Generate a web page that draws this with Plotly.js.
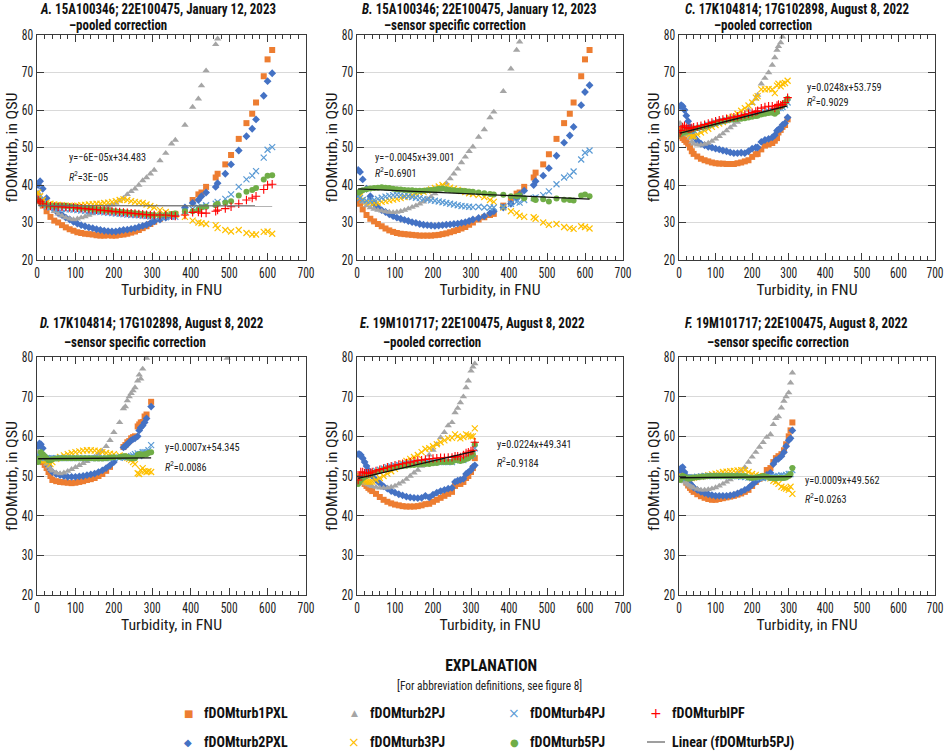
<!DOCTYPE html>
<html><head><meta charset="utf-8">
<script src="https://cdn.plot.ly/plotly-3.0.1.min.js"></script>
<style>html,body{margin:0;padding:0;background:#fff}#chart{width:944px;height:751px}</style>
</head><body><div id="chart"></div>
<script>
// ---------- DATA ----------
const seriesNames = ['fDOMturb1PXL','fDOMturb2PXL','fDOMturb2PJ','fDOMturb3PJ','fDOMturb4PJ','fDOMturb5PJ','fDOMturbIPF'];
const trendName = 'Linear (fDOMturb5PJ)';
const panelLetters = ['A.','B.','C.','D.','E.','F.'];
const panelIds = ['15A100346; 22E100475, January 12, 2023','15A100346; 22E100475, January 12, 2023','17K104814; 17G102898, August 8, 2022','17K104814; 17G102898, August 8, 2022','19M101717; 22E100475, August 8, 2022','19M101717; 22E100475, August 8, 2022'];
const panelCorr = ['\u2013pooled correction','\u2013sensor specific correction','\u2013pooled correction','\u2013sensor specific correction','\u2013pooled correction','\u2013sensor specific correction'];
const fitSlopes = [-0.00006, -0.0045, 0.0248, 0.0007, 0.0224, 0.0009];
const fitIntercepts = [34.483, 39.001, 53.759, 54.345, 49.341, 49.562];
const fitEqText = ['y=\u22126E\u221205x+34.483','y=\u22120.0045x+39.001','y=0.0248x+53.759','y=0.0007x+54.345','y=0.0224x+49.341','y=0.0009x+49.562'];
const fitR2Text = ['3E\u221205','0.6901','0.9029','0.0086','0.9184','0.0263'];
const xTickVals = [0,100,200,300,400,500,600,700];
const yTickVals = [20,30,40,50,60,70,80];

// Turbidity (FNU), January 12, 2023 (panels A, B)
const xAB = [3,8,15,25,35,45,55,65,75,85,95,105,115,125,135,145,155,165,175,185,195,205,215,225,235,245,255,265,275,285,295,305,320,335,350,360,385,405,420,428,440,465,470,490,505,525,545,560,570,590,600,612];
// Panel A
const a1PXL = [37,36,34.5,33,31.5,30.5,30,29.3,28.7,28.2,27.8,27.4,27.2,27,26.9,26.8,26.6,26.5,26.5,26.6,26.5,26.5,26.7,26.8,27,27.3,27.6,28,28.5,29,29.6,30.2,31,31.5,32,32.3,33.5,36,37.5,38,39.5,42,43,45.5,48,52.3,56.5,59,62,69,73.5,76];
const a2PXL = [40,41,39,36.5,34.5,33.5,32.5,32,31.3,30.8,30.2,29.7,29.3,29,28.7,28.5,28.2,28,27.8,27.7,27.6,27.6,27.8,28,28.1,28.3,28.5,28.8,29.1,29.4,29.8,30.3,30.8,31.3,31.8,32,34,35.2,36,37,38,39.5,40.5,43,45.5,49.2,53,55,57.5,63.8,67.7,69.8];
const a2PJ = [38,37,36,34.5,33.8,33,32.3,31.8,31.3,31,30.8,31,31.3,31.6,32,32.4,32.8,33.3,33.8,34.2,34.7,35.2,35.8,36.5,37.5,38.3,39,40,41.2,42,43,44,46.5,48.5,51,52,56,60.8,63,66.5,70.5,77.5,79,null,null,null,null,null,null,null,null,null];
const a3PJ = [38,37,36,35.3,35,34.8,34.7,34.6,34.5,34.5,34.4,34.5,34.6,34.7,34.8,34.9,35,35,35.2,35.3,35.5,35.7,36,36.2,36,35.7,35.5,35.3,35.2,34.8,34.4,34,33.3,32.8,32.3,32,31.5,30.5,30,29.8,29.6,29.3,28.5,28,27.6,28,27.2,26.8,26.8,27.5,27.6,27];
const a4PJ = [36.5,36,35,34.3,34,33.8,33.7,33.6,33.5,33.5,33.4,33.3,33.2,33.1,33,33,32.9,32.8,32.7,32.6,32.5,32.4,32.3,32.2,32.1,32,32,31.9,31.8,31.7,31.6,31.5,31.5,31.4,31.5,31.5,33,33.6,34,34.3,34.6,35,35.5,36.3,37.5,39.5,41.5,42.5,43.7,47.3,49.4,50.1];
const a5PJ = [36,35.5,35,34.7,34.5,34.5,34.5,34.5,34.5,34.3,34.2,34,33.9,33.8,33.7,33.6,33.5,33.4,33.3,33.2,33.1,33,32.9,32.8,32.7,32.6,32.5,32.4,32.3,32.2,32.1,32,32,32.1,32.3,32.4,33,33,33.5,34,34.2,34.6,35,35.3,35.7,37.2,38.2,38.7,39.2,41.5,42.5,42.6];
const aIPF = [36,35.5,35,34.6,34.4,34.3,34.2,34.2,34.1,34,34,33.9,33.8,33.7,33.6,33.5,33.4,33.3,33.2,33.1,33,32.9,32.8,32.7,32.6,32.5,32.4,32.3,32.2,32.1,32,32,32,32,31.8,31.7,32,32.7,32.8,32.5,32.5,33,33.3,33.7,34.2,35,36,36.5,37,38.8,40,40.2];
// Panel B
const b1PXL = [36,35,33.5,32,31,30.3,29.6,29,28.4,27.9,27.5,27.2,27,26.9,26.8,26.7,26.6,26.5,26.5,26.5,26.5,26.6,26.7,26.9,27.1,27.4,27.7,28,28.4,28.8,29.4,30,30.8,31.4,32,32.3,34.5,36,37.7,38,39.5,42,43.3,45.5,48.2,52.3,56.5,59,62,69,73.5,76];
const b2PXL = [44,43.5,41.5,39,37,35,34,33.3,32.8,32.2,31.7,31.3,31,30.7,30.4,30.1,29.9,29.6,29.4,29.3,29.2,29.1,29.2,29.3,29.4,29.5,29.6,29.7,29.9,30.1,30.4,30.8,31.2,31.7,32.5,33,34,35,36.5,37.5,38.5,40,41,42.5,44.5,47.8,51.3,53.2,55.5,61.3,64.8,66.6];
const b2PJ = [37,36.5,35.5,34.5,34,33.6,33.3,33.1,32.9,32.8,32.7,32.8,33,33.3,33.7,34.1,34.5,35,35.5,36.2,36.9,37.7,38.5,39.5,40.5,41.7,43,44.3,46,47.5,49,50.2,52.8,54.8,58,59.5,65,71,76,78.2,null,null,null,null,null,null,null,null,null,null,null,null];
const b3PJ = [38,37,36,35.5,35.3,35.2,35.3,35.5,35.7,35.9,36.1,36.3,36.5,36.8,37,37.3,37.6,37.9,38.2,38.5,38.8,39.2,39.6,40,39.7,39.3,39,38.7,38.4,38.1,37.8,37.6,37.3,36.8,36,35.5,34,33,32.5,31.8,31.5,31.4,31,30,29.4,29.6,28.8,28.5,28.3,29,28.8,28.4];
const b4PJ = [37,36.5,36,35.8,35.8,36,36.3,36.6,36.9,37.1,37.3,37.4,37.3,37.1,37,36.8,36.6,36.5,36.3,36.1,35.9,35.8,35.6,35.4,35.2,35,34.8,34.6,34.4,34.3,34.2,34.1,34.2,34,34,34,34.2,35,35.5,35.3,36,36.5,36.7,37.3,38.3,40.2,42,42.5,43.6,46.8,48.6,49.2];
const b5PJ = [38,38.3,38.6,38.9,39.1,39.2,39.3,39.4,39.3,39.2,39,38.9,38.8,38.7,38.6,38.6,38.5,38.5,38.5,38.6,38.7,38.8,39,39.1,38.9,38.7,38.6,38.5,38.5,38.4,38.3,38.2,38,37.8,37.6,37.5,37.4,37,37,37.2,36.5,36.3,36,36.2,35.6,36.4,36.1,36,35.9,37.2,37.5,37];

// Turbidity (FNU), August 8, 2022, 17K104814 (panels C, D)
const xC = [3,6,10,15,20,25,30,35,40,50,60,70,80,90,100,110,120,130,140,150,160,170,180,190,200,210,215,225,235,245,255,262,268,272,278,283,290,297];
const c1PXL = [53.5,53,52.5,52,51.5,51,50,49,48.3,47.6,47,46.6,46.3,46,45.8,45.7,45.7,45.6,45.6,45.6,45.8,46,46.3,46.6,47.5,48.2,48.3,49.5,50.5,50.8,51.2,51.8,52.5,54,54.7,55.5,56,57.5];
const c2PXL = [61,61.3,61,60,58.5,57,55.5,54,53,51.8,51,50.6,50.2,50,49.7,49.5,49.2,49,48.7,48.5,48.5,48.6,48.5,49,49.7,50,50,51.5,52,52.3,52.7,53.3,54.5,54.8,55,56,56.5,58];
const c2PJ = [56.5,56,55.5,54.5,54,53.3,52.5,51.5,51,50.7,50.7,50.9,51.2,51.7,52.3,53,53.7,54.5,55.3,56,56.8,57.6,58.5,60,61.8,63,64,67,68.5,70,72,74,76,77,78,79.5,null,null];
const c3PJ = [55,54.5,54,54,54,53.8,53.5,53,53,53.5,54,54.5,55,55.5,56,56.4,56.8,57.3,57.8,58.3,59,59.8,60.5,61.2,62,63.3,63.7,65.5,65.5,65.6,65.5,64.5,66.5,67,66.3,67,67.2,67.8];
const c4PJ = [54,54,54,54.2,54.3,54.4,54.5,54.6,54.7,55,55.3,55.6,56,56.3,56.6,56.9,57.1,57.3,57.5,57.7,57.9,58.1,58.3,58.5,58.7,58.9,59,59.2,59.4,59.6,59.8,59.5,59.8,60.5,60.5,60.8,61.3,62];
const c5PJ = [53.5,53.8,54,54.2,54.3,54.4,54.6,54.8,55,55.2,55.4,55.6,55.9,56.2,56.5,56.8,57,57.2,57.4,57.5,57.6,57.7,57.8,58,58.2,58.4,58.5,58.8,59,59.2,59.3,59,59.5,60.8,61,61.2,62,63];
const cIPF = [54,54.5,55.5,55.8,55.3,55,55,55.2,55.4,55.6,55.8,56.1,56.4,56.7,57,57.3,57.5,57.7,57.9,58.1,58.3,58.5,58.8,59,59.3,59.6,59.8,60.5,60.8,61,61,60.5,61.2,61.5,61.3,61.5,62,63.3];
const xD = [3,6,10,15,20,25,30,35,40,50,60,70,80,90,100,110,120,130,140,150,160,170,180,190,200,215,225,230,235,240,245,250,255,262,266,270,275,280,285,290,297,495];
const d1PXL = [55,54.5,54,53.5,52.8,52,51,50,49,48.7,48.5,48.4,48.3,48.2,48.3,48.5,48.7,49,49.2,49.5,50,50.5,51.3,52.3,null,null,57.3,57.8,58.5,58.8,59.5,59.8,60,62.5,63,63.5,63.6,65,65.5,null,68.7,null];
const d2PXL = [57.5,58.2,58,57,55,53.5,52.5,51.5,51,50.5,50.2,50,49.8,49.8,49.8,49.9,50,50.2,50.4,50.6,51,51.4,52,52.7,53.5,null,57.2,57.5,58,58.5,59,59.3,59.5,60,61.5,62.2,62.7,63.5,64.5,null,67.5,null];
const d2PJ = [56,55.5,55,54.5,53.8,53,52.3,51.7,51.3,50.8,50.6,50.8,51.2,51.7,52.2,52.7,53.2,53.7,54.2,54.8,55.5,56.3,57.5,59,61,63.5,67,67.5,69,70,70.8,71.5,72.3,74,75.5,74.5,77,null,79.7,null,null,79.7];
const d3PJ = [54,54,54,54,54,53.8,53.5,53,53.5,54.3,54.8,55.2,55.5,55.8,56,56.2,56.4,56.5,56.5,56.4,56.3,56,55.8,55.6,55.5,55.2,55,54.8,54.6,54.3,54,53.5,53,50.7,50.5,51.5,52,51.2,51,51.2,51,null];
const d4PJ = [55,55,54.8,54.6,54.5,54.5,54.5,54.5,54.5,54.5,54.5,54.5,54.5,54.5,54.5,54.5,54.5,54.5,54.5,54.5,54.5,54.5,54.5,54.5,54.6,54.6,54.7,54.7,54.8,54.8,55,55.2,55.5,55.7,55,55.5,56,56,56,56.5,57.8,null];
const d5PJ = [53.5,54.5,56,55.5,55,54.5,54,54,54.2,54.4,54.5,54.5,54.5,54.5,54.5,54.5,54.5,54.5,54.5,54.4,54.4,54.4,54.5,54.6,54.7,54.8,55,55,54.8,54.6,54.5,54.5,54.5,55.3,55.5,55.5,55.3,55.5,55.5,55.8,56,null];

// Turbidity (FNU), August 8, 2022, 19M101717 (panels E, F)
const xEF = [3,6,10,15,20,25,30,35,40,50,60,70,80,90,100,110,120,130,140,150,160,170,180,190,200,210,220,230,240,250,258,265,272,280,287,293,300,305,310];
const e1PXL = [50,49.5,49,48.5,48,47.5,47,46.6,46.2,45.5,44.7,44,43.5,43.1,42.8,42.6,42.4,42.3,42.3,42.3,42.4,42.6,42.9,43,43.5,44,44.5,45,45.5,46,47.5,48,48,48.5,49.5,50,51,52,54.5];
const e2PXL = [55.5,55.5,55.3,54.5,53.5,52.5,51.5,50.7,50,49,48.2,47.4,46.8,46.2,45.8,45.4,45.1,44.8,44.6,44.5,44.4,44.5,45,44.6,45.3,45.8,46.2,46.5,46.8,47,48.5,48.8,49,49.3,50.5,51,51.5,52.3,52.7];
const e2PJ = [49,48.7,48.5,48.3,48.2,48,47.8,47.6,47.4,47.2,47,47,47,47.2,47.5,48,48.5,49.2,50,50.8,51.5,52.5,54,55.3,56.5,58,59.7,61,62.7,63.5,66,67.1,68.5,70,72.3,74,76.5,77.5,78.3];
const e3PJ = [50,49.7,49.3,49,48.8,48.6,48.5,48.5,48.6,49,49.5,50,50.6,51.2,51.8,52.5,53.2,53.8,54.3,54.8,55.3,56,56.8,57,57.5,58,58.5,59,59.5,59.6,60.5,60,59.5,59.8,60.5,60.2,60,60,62];
const e4PJ = [49,49.3,49.6,50,50.2,50.4,50.6,50.8,51,51.3,51.6,51.9,52.2,52.4,52.6,52.8,53,53.1,53.2,53.3,53.4,53.5,53.5,53.5,53.5,53.5,53.5,53.5,53.5,53.5,54,54.5,54,54,54.5,55,55,55.5,57];
const e5PJ = [48,48.5,49,49.5,49.8,50,50.2,50.4,50.6,51,51.3,51.6,51.8,52,52.2,52.4,52.5,52.6,52.7,52.8,52.9,53,53,53,53.2,53.3,53.5,53.5,53.5,53.5,54,54,53.8,54,54.3,54.5,55,55.5,58];
const eIPF = [49,50,51,51,50.8,50.7,50.7,50.8,51,51.3,51.6,51.9,52.2,52.5,52.7,52.9,53.1,53.3,53.5,53.7,53.9,54,54.2,54.3,54.4,54.5,54.6,54.6,54.7,54.7,55,55,54.8,55.3,55.8,56,56.3,56.5,58.5];
const f1PXL = [51,50.5,49.8,49,48.3,47.6,47,46.5,46,45.4,44.9,44.5,44.2,44,44,44.2,44.4,44.6,44.8,45,45.3,45.6,46,46.5,47.5,48.5,49.3,50,51.5,52,53.5,54.5,55,55.5,56.5,58,60,61.5,63.5];
const f2PXL = [51.5,52,52.2,51,50,49,48.2,47.6,47.1,46.5,46,45.7,45.4,45.2,45,45,45,45,45.1,45.3,45.6,46,46.5,47,47.8,48.6,49.3,49.8,50.3,50.8,53,54,54.3,55,56,57.5,59,59.5,61.5];
const f2PJ = [50,49.5,49,48.6,48.2,47.8,47.5,47.2,47,46.7,46.5,46.5,46.6,46.8,47.1,47.5,48,48.5,49.1,49.8,50.5,51.3,52.2,53.5,54.8,56,57.3,58.5,59.8,60.5,63,64.5,65,67.2,68.9,70,71,73.5,76];
const f3PJ = [50,49.8,49.6,49.5,49.5,49.5,49.5,49.5,49.6,49.7,49.8,50,50.2,50.4,50.6,50.8,51,51.1,51.2,51.3,51.4,51.5,51.5,51,50.5,50.3,50,49.8,49.6,49.4,48.8,48.5,48,47.3,47,46.8,46.5,47.3,45.5];
const f4PJ = [49.5,49.5,49.5,49.5,49.5,49.6,49.6,49.7,49.7,49.8,49.9,50,50,50,50,50,50,50,50,50,49.9,49.8,49.7,49.6,49.5,49.5,49.5,49.5,49.6,49.7,49.8,50,50,50.2,50.1,50.3,50.5,50.5,51.5];
const f5PJ = [49,49.5,50,49.8,49.5,49.4,49.4,49.5,49.6,49.7,49.8,49.9,50,50,50,50,50,50,50,50,50,50,50,49.6,49.5,49.6,49.8,50,49.8,49.5,49.5,49.4,49.5,49.5,49.5,49.6,50,50.5,52];

// ---------- STYLES ----------
const colors = ['#ED7D31','#4472C4','#A5A5A5','#FFC000','#5B9BD5','#70AD47','#FF0000'];
const symbols = ['square','diamond','triangle-up','x-thin','x-thin','circle','cross-thin'];
const legGlyph = ['\u25A0','\u25C6','\u25B2','\u00D7','\u00D7','\u25CF','+'];
const legGlyphSize = [10,10,9,14,14,10,14];
const FONT = '"Roboto Condensed","Liberation Sans Narrow","DejaVu Sans Condensed","DejaVu Sans",sans-serif';
const W = 944, H = 751;
const px = v => v / W, py = v => 1 - v / H;
const colPx = [[37,306],[357,623],[679,935]];
const rowPx = [[35,260],[357,595]];

const panels = [
  {x: xAB, s: [a1PXL,a2PXL,a2PJ,a3PJ,a4PJ,a5PJ,aIPF], lc:'#6b6b6b'},
  {x: xAB, s: [b1PXL,b2PXL,b2PJ,b3PJ,b4PJ,b5PJ,null], lc:'#111'},
  {x: xC,  s: [c1PXL,c2PXL,c2PJ,c3PJ,c4PJ,c5PJ,cIPF], lc:'#111'},
  {x: xD,  s: [d1PXL,d2PXL,d2PJ,d3PJ,d4PJ,d5PJ,null], lc:'#111'},
  {x: xEF, s: [e1PXL,e2PXL,e2PJ,e3PJ,e4PJ,e5PJ,eIPF], lc:'#111'},
  {x: xEF, s: [f1PXL,f2PXL,f2PJ,f3PJ,f4PJ,f5PJ,null], lc:'#111'}
];

const data = [];
const layout = {
  width: W, height: H, margin: {l:0,r:0,t:0,b:0},
  paper_bgcolor:'#fff', plot_bgcolor:'#fff',
  font: {family: FONT, color:'#1a1a1a', size: 13},
  showlegend: false,
  annotations: [], shapes: []
};

panels.forEach((p, i) => {
  const ax = i === 0 ? '' : String(i+1);
  const xa = 'x' + ax, ya = 'y' + ax;
  const col = i % 3, row = Math.floor(i / 3);
  p.s.forEach((ys, k) => {
    if (!ys) return;
    const isX = symbols[k].indexOf('thin') >= 0;
    data.push({
      type:'scatter', mode:'markers', x: p.x, y: ys, xaxis: xa, yaxis: ya,
      name: seriesNames[k], cliponaxis: true,
      marker: {symbol: symbols[k], size: isX ? 6 : (k===2 ? 6.5 : 6), color: colors[k],
               line: {width: isX ? (k===6 ? 1.1 : 1.2) : 0, color: colors[k]}}
    });
  });
  // linear trend of fDOMturb5PJ, from its fitted slope/intercept over the series' x-span
  const g = p.s[5];
  const xs = p.x.filter((v, j) => g[j] !== null);
  const x0 = Math.min(...xs), x1 = Math.max(...xs);
  data.push({
    type:'scatter', mode:'lines', x:[x0, x1],
    y:[fitSlopes[i]*x0 + fitIntercepts[i], fitSlopes[i]*x1 + fitIntercepts[i]],
    xaxis: xa, yaxis: ya, name: trendName, line: {color: p.lc, width: 1.3}
  });
  const axBase = {showline:true, linecolor:'#3a3a3a', linewidth:1, mirror:'ticks', ticks:'inside',
                  tickcolor:'#3a3a3a', ticklen:7, tickwidth:1, zeroline:false, fixedrange:true,
                  ticklabeloverflow:'allow',
                  tickfont:{size:14, family:FONT, color:'#1a1a1a'}};
  layout['xaxis' + ax] = Object.assign({}, axBase, {
    domain:[px(colPx[col][0]), px(colPx[col][1])], anchor: ya, range:[0,700],
    tickvals: xTickVals, showgrid:false,
    minor:{dtick:20, ticks:'inside', ticklen:4, tickcolor:'#3a3a3a', showgrid:false},
    title:{text:'Turbidity, in FNU', font:{size:15, family:FONT}, standoff:8}
  });
  layout['yaxis' + ax] = Object.assign({}, axBase, {
    domain:[py(rowPx[row][1]), py(rowPx[row][0])], anchor: xa, range:[20,80],
    tickvals: yTickVals, showgrid:true, gridcolor:'#d9d9d9', gridwidth:1,
    title:{text:'fDOMturb, in QSU', font:{size:15, family:FONT}, standoff:0}
  });
});

// panel titles (annotation indices 0..11)
const t1x = [38,360,683,38,358,683], t2x = [67,382,712,62,381,705];
const t1y = [9,9,9,323,323,323], t2y = [25,25,25,342,342,342];
panelLetters.forEach((L, i) => {
  layout.annotations.push({xref:'paper', yref:'paper', x:px(t1x[i]), y:py(t1y[i]), xanchor:'left', yanchor:'middle', align:'left',
    text:'<i>'+L+'</i> '+panelIds[i], showarrow:false, font:{size:14, family:FONT, weight:700, color:'#111'}});
  layout.annotations.push({xref:'paper', yref:'paper', x:px(t2x[i]), y:py(t2y[i]), xanchor:'left', yanchor:'middle', align:'left',
    text:panelCorr[i], showarrow:false, font:{size:14, family:FONT, weight:700, color:'#111'}});
});
// equation labels (indices 12..23)
const eqx = [67,373,805,163,495,803], eqy = [157,157,87,447,444,480], r2y = [176,173,102,466,462,499];
fitEqText.forEach((t, i) => {
  layout.annotations.push({xref:'paper', yref:'paper', x:px(eqx[i]), y:py(eqy[i]), xanchor:'left', yanchor:'middle', align:'left',
    text:t, showarrow:false, font:{size:11.5, family:FONT, color:'#222'}});
  layout.annotations.push({xref:'paper', yref:'paper', x:px(eqx[i]), y:py(r2y[i]), xanchor:'left', yanchor:'middle', align:'left',
    text:'<i>R</i><sup>2</sup>='+fitR2Text[i], showarrow:false, font:{size:11.5, family:FONT, color:'#222'}});
});
// explanation header (indices 24, 25)
layout.annotations.push({xref:'paper', yref:'paper', x:px(491), y:py(665), xanchor:'center', yanchor:'middle',
  text:'EXPLANATION', showarrow:false, font:{size:16, family:FONT, weight:700, color:'#111'}});
layout.annotations.push({xref:'paper', yref:'paper', x:px(490), y:py(685), xanchor:'center', yanchor:'middle',
  text:'[For abbreviation definitions, see figure 8]', showarrow:false, font:{size:13, family:FONT, color:'#222'}});

// explanation entries: 4 columns x 2 rows (label annotations from index 26, symbols after)
const legTextX = [202,368,528,670];
const legRowY = [713,742];
const legNames = seriesNames.concat([trendName]);
const LEG_LABEL0 = layout.annotations.length;
legNames.forEach((nm, k) => {
  const col = Math.floor(k / 2), row = k % 2;
  layout.annotations.push({xref:'paper', yref:'paper', x:px(legTextX[col]), y:py(legRowY[row]), xanchor:'left', yanchor:'middle', align:'left',
    text:nm, showarrow:false, font:{size:15, family:FONT, weight:700, color:'#111'}});
});
seriesNames.forEach((nm, k) => {
  const col = Math.floor(k / 2), row = k % 2;
  layout.annotations.push({xref:'paper', yref:'paper', x:px(legTextX[col] - 14), y:py(legRowY[row]), xanchor:'center', yanchor:'middle',
    text:legGlyph[k], showarrow:false, font:{size:legGlyphSize[k], family:'"DejaVu Sans",sans-serif', color:colors[k]}});
});
layout.shapes.push({type:'line', xref:'paper', yref:'paper', x0:px(legTextX[3] - 23), x1:px(legTextX[3] - 5),
  y0:py(legRowY[1]), y1:py(legRowY[1]), line:{color:'#6b6b6b', width:1.3}});

// ---- condensed-type emulation: squeeze each text class to the reference's measured width ----
function baseLen(el) {
  let L = el.getAttribute('data-l0');
  if (L === null) { L = el.getComputedTextLength(); el.setAttribute('data-l0', L); }
  return +L;
}
function squeeze(els, refEl, refWidth) {
  if (!refEl) return;
  const L0 = baseLen(refEl);
  if (!(L0 > 0)) return;
  const f = refWidth / L0;
  els.forEach(el => {
    const l = baseLen(el);
    if (l > 0) { el.setAttribute('textLength', (l * f).toFixed(2)); el.setAttribute('lengthAdjust', 'spacingAndGlyphs'); }
  });
}
function shift(g, dx, dy) {
  const t = g.getAttribute('transform') || '';
  g.setAttribute('transform', t + ' translate(' + dx.toFixed(2) + ',' + dy.toFixed(2) + ')');
}
function moveCenter(el, cx, cy) {
  const r = el.getBoundingClientRect();
  shift(el.parentNode, cx - (r.left + r.width / 2), cy - (r.top + r.height / 2));
}
function finish(gd) {
  const ann = [...gd.querySelectorAll('.annotation')].sort((a, b) => (+a.getAttribute('data-index')) - (+b.getAttribute('data-index')));
  const annText = i => ann[i] ? ann[i].querySelector('text') : null;
  const range = (a, b) => { const r = []; for (let i = a; i < b; i++) { const t = annText(i); if (t) r.push(t); } return r; };
  squeeze(range(0, 12), annText(0), 235);
  squeeze(range(12, 24), annText(12), 77);
  squeeze(range(24, 25), annText(24), 92);
  squeeze(range(25, 26), annText(25), 185);
  squeeze(range(LEG_LABEL0, LEG_LABEL0 + legNames.length), annText(LEG_LABEL0 + 2), 75);
  const axIds = ['', '2', '3', '4', '5', '6'];
  const ticks = [];
  axIds.forEach(a => { ticks.push(...gd.querySelectorAll('.x' + a + 'tick text'), ...gd.querySelectorAll('.y' + a + 'tick text')); });
  squeeze(ticks, ticks.find(e => e.textContent === '100'), 17);
  const xt = axIds.map(a => gd.querySelector('text.x' + a + 'title')).filter(Boolean);
  const yt = axIds.map(a => gd.querySelector('text.y' + a + 'title')).filter(Boolean);
  squeeze(xt, xt[0], 101);
  squeeze(yt, yt[0], 110);
  xt.forEach((el, i) => { const c = i % 3, r = Math.floor(i / 3); moveCenter(el, (colPx[c][0] + colPx[c][1]) / 2, rowPx[r][1] + 30); });
  yt.forEach((el, i) => { const c = i % 3, r = Math.floor(i / 3); moveCenter(el, colPx[c][0] - 25, (rowPx[r][0] + rowPx[r][1]) / 2); });
}

Plotly.newPlot('chart', data, layout, {staticPlot:true, displayModeBar:false}).then(finish);
</script></body></html>
